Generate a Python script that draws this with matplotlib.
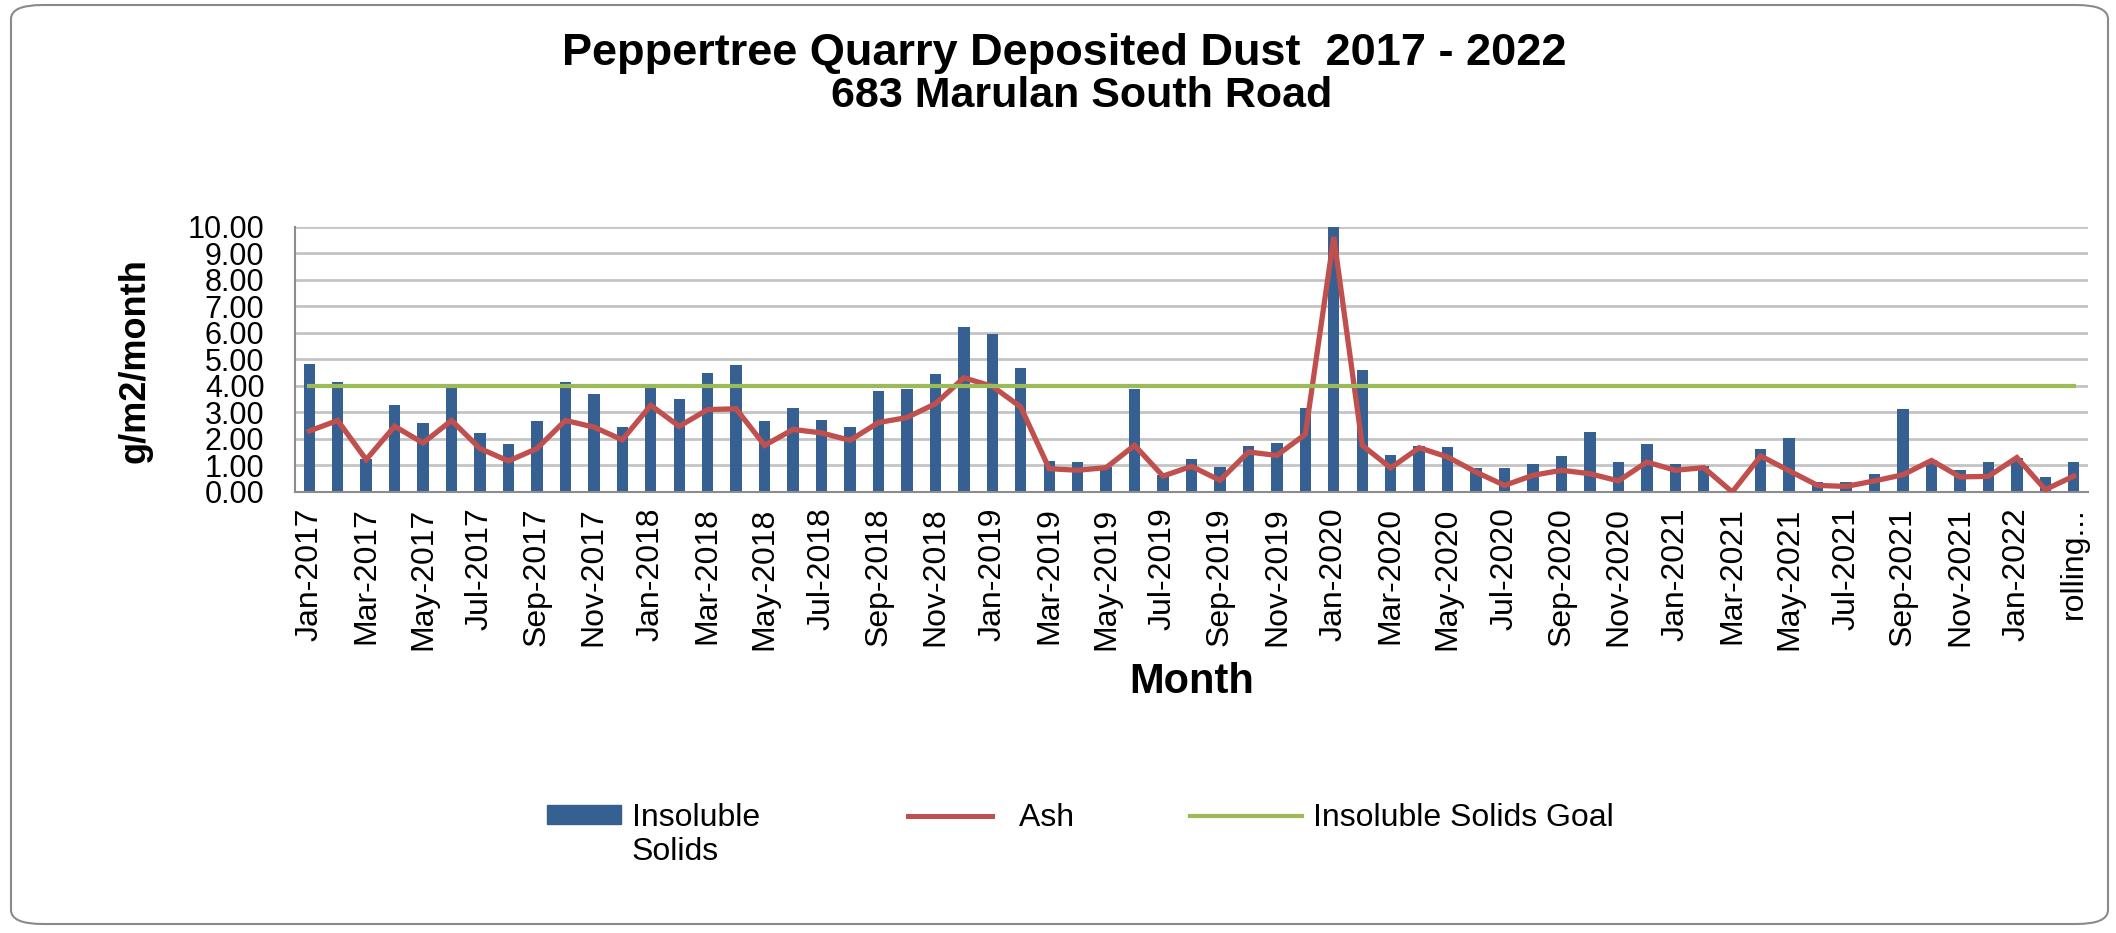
import matplotlib
matplotlib.use("Agg")
import matplotlib.pyplot as plt
from matplotlib.patches import FancyBboxPatch
from matplotlib.lines import Line2D
from matplotlib.patches import Patch

plt.rcParams['font.family'] = ['Liberation Sans', 'DejaVu Sans']

months = ["Jan", "Feb", "Mar", "Apr", "May", "Jun", "Jul", "Aug", "Sep", "Oct", "Nov", "Dec"]
categories = [f"{m}-{y}" for y in range(2017, 2022) for m in months] + ["Jan-2022", "Feb-2022", "rolling..."]

insoluble_solids = [
    4.84, 4.15, 1.26, 3.30, 2.62, 3.96, 2.21, 1.81, 2.67, 4.15, 3.71, 2.44,
    3.92, 3.52, 4.50, 4.79, 2.67, 3.18, 2.73, 2.44, 3.81, 3.90, 4.45, 6.23,
    5.95, 4.68, 1.18, 1.12, 0.94, 3.90, 0.63, 1.23, 0.94, 1.75, 1.86, 3.18,
    10.00, 4.60, 1.41, 1.75, 1.70, 0.91, 0.91, 1.07, 1.36, 2.28, 1.12, 1.81,
    1.07, 0.99, 0.00, 1.64, 2.04, 0.38, 0.38, 0.67, 3.13, 1.19, 0.84, 1.13,
    1.30, 0.55, 1.12,
]

ash = [
    2.30, 2.70, 1.22, 2.48, 1.85, 2.70, 1.64, 1.17, 1.64, 2.70, 2.45, 1.97,
    3.27, 2.48, 3.11, 3.14, 1.76, 2.36, 2.23, 1.95, 2.62, 2.81, 3.33, 4.31,
    3.99, 3.21, 0.88, 0.82, 0.92, 1.76, 0.60, 0.97, 0.44, 1.51, 1.38, 2.18,
    9.62, 1.76, 0.91, 1.67, 1.32, 0.75, 0.25, 0.63, 0.82, 0.69, 0.42, 1.13,
    0.82, 0.92, 0.00, 1.36, 0.80, 0.25, 0.21, 0.42, 0.65, 1.19, 0.57, 0.59,
    1.30, 0.09, 0.60,
]

goal_value = 4.0
goal = [goal_value] * len(categories)

yticks = [0, 1, 2, 3, 4, 5, 6, 7, 8, 9, 10]

BLUE = "#376092"
RED = "#C0504D"
GREEN = "#9BBB59"

W, H = 2116, 933
fig = plt.figure(figsize=(W / 100, H / 100), dpi=100)

# rounded outer border
border = FancyBboxPatch((11 / W, 9 / H), (2108 - 11) / W, (928 - 9) / H,
                        boxstyle="round,pad=0,rounding_size=0.015",
                        transform=fig.transFigure, facecolor="none",
                        edgecolor="#8a8a8a", linewidth=1.5, zorder=0)
fig.patches.append(border)

left, right, top, bottom = 295, 2088, 227, 492
ax = fig.add_axes([left / W, 1 - bottom / H, (right - left) / W, (bottom - top) / H])
ax.set_facecolor("none")
ax.set_zorder(2)

x = list(range(len(categories)))
ax.bar(x, insoluble_solids, width=0.4, color=BLUE, zorder=2)
ax.plot(x, ash, color=RED, linewidth=3.8, zorder=3, solid_joinstyle="miter")
ax.plot(x, goal, color=GREEN, linewidth=3.0, zorder=3)

ax.set_xlim(-0.5, len(categories) - 0.5)
ax.set_ylim(0, 10)
ax.set_yticks(yticks)
ax.set_yticklabels([f"{v:.2f}" for v in yticks], fontsize=22)
ax.set_xticks(x[::2])
ax.set_xticklabels(categories[::2], rotation=90, fontsize=23, va="top", ha="center")
ax.tick_params(axis="y", length=0, pad=22)
ax.tick_params(axis="x", length=0, pad=11)
ax.yaxis.grid(True, color="#c4c4c4", linewidth=2)
ax.set_axisbelow(True)
for s in ["top", "right"]:
    ax.spines[s].set_visible(False)
for s in ["left", "bottom"]:
    ax.spines[s].set_color("#8c8c8c")
    ax.spines[s].set_linewidth(1.5)

fig.text(1064 / W, 1 - 53 / H, "Peppertree Quarry Deposited Dust  2017 - 2022",
         fontsize=32.5, fontweight="bold", ha="center", va="center")
fig.text(1082 / W, 1 - 96 / H, "683 Marulan South Road",
         fontsize=31, fontweight="bold", ha="center", va="center")
fig.text(135 / W, 1 - 361 / H, "g/m2/month", fontsize=26, fontweight="bold",
         rotation=90, ha="center", va="center")
fig.text(1192 / W, 1 - 682 / H, "Month", fontsize=30, fontweight="bold",
         ha="center", va="center")

# legend: three entries placed like the original
LFS = 23
em = LFS * 100 / 72.0
legend_y = 1 - 818 / H
entries = [
    (Patch(facecolor=BLUE, edgecolor=BLUE), "Insoluble", 547, 74),
    (Line2D([0], [0], color=RED, linewidth=3.6), "  Ash", 908, 84),
    (Line2D([0], [0], color=GREEN, linewidth=3.0), "Insoluble Solids Goal", 1190, 112),
]
for handle, label, x0, hlen in entries:
    fig.legend([handle], [label], loc="center left", bbox_to_anchor=(x0 / W, legend_y),
               frameon=False, fontsize=LFS, handlelength=hlen / em, handleheight=0.55,
               handletextpad=11 / em, borderpad=0, borderaxespad=0)
fig.text(632 / W, 1 - 852 / H, "Solids", fontsize=LFS, ha="left", va="center")

fig.savefig("out.png", dpi=100)
